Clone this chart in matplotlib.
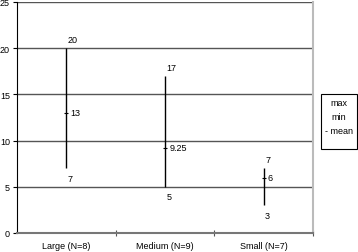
import matplotlib
matplotlib.use('Agg')
import matplotlib.pyplot as plt
from matplotlib.patches import Rectangle

plt.rcParams['font.family'] = ['Liberation Sans', 'DejaVu Sans']
FONT_SIZE = 6.5

# --- 数据 ---
categories = ['Large (N=8)', 'Medium (N=9)', 'Small (N=7)']
max_vals = [20, 17, 7]
min_vals = [7, 5, 3]
mean_vals = [13, 9.25, 6]
mean_labels = ['13', '9.25', '6']

W, H = 358, 253
fig = plt.figure(figsize=(W / 100, H / 100), dpi=100)
ax = fig.add_axes([17 / W, (H - 234) / H, (313 - 17) / W, (234 - 3) / H])

x = [0, 1, 2]
ax.set_xlim(-0.5, 2.5)
ax.set_ylim(0, 25)

# 网格线
for yv in [5, 10, 15, 20, 25]:
    ax.axhline(yv, color='#555555', lw=1, zorder=1)

ax.vlines(x, min_vals, max_vals, color='black', lw=1, zorder=3)
ax.plot(x, mean_vals, ls='none', marker='_', ms=3, mew=0.8, color='black', zorder=4)

for xi, mx, mn, mv, ml in zip(x, max_vals, min_vals, mean_vals, mean_labels):
    ax.annotate(str(mx), (xi, mx), xytext=(1, 3), textcoords='offset points',
                ha='left', va='bottom', fontsize=FONT_SIZE)
    ax.annotate(str(mn), (xi, mn), xytext=(1, -4), textcoords='offset points',
                ha='left', va='top', fontsize=FONT_SIZE)
    ax.annotate(ml, (xi, mv), xytext=(3, 0), textcoords='offset points',
                ha='left', va='center', fontsize=FONT_SIZE)

ax.set_yticks([0, 5, 10, 15, 20, 25])
ax.set_xticks(x)
ax.set_xticklabels(categories)
ax.set_xticks([0.5, 1.5, 2.5], minor=True)
ax.tick_params(axis='x', which='major', length=0, pad=6, labelsize=FONT_SIZE)
ax.tick_params(axis='x', which='minor', length=4, direction='inout', width=0.8, color='#555555')
ax.tick_params(axis='y', length=3, width=0.8, pad=2, labelsize=FONT_SIZE)

ax.spines['top'].set_visible(False)
ax.spines['left'].set_color('black')
ax.spines['bottom'].set_color('#777777')
ax.spines['bottom'].set_linewidth(1.5)
ax.spines['right'].set_color('#bbbbbb')
ax.spines['right'].set_linewidth(1.5)

# 图例框
fig.patches.append(Rectangle((321 / W, 1 - 150 / H), 36 / W, 55 / H,
                             transform=fig.transFigure, fill=False,
                             edgecolor='black', lw=0.8))
for label, yy in [('max', 104), ('min', 118), ('- mean', 132)]:
    fig.text(339 / W, 1 - yy / H, label, ha='center', va='center', fontsize=FONT_SIZE)

plt.savefig('out.png', dpi=100)
